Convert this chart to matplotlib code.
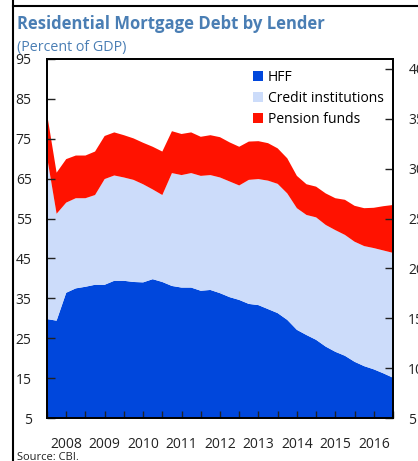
import numpy as np
import matplotlib
matplotlib.use('Agg')
import matplotlib.pyplot as plt
from matplotlib.lines import Line2D
from matplotlib.patches import Patch

plt.rcParams['font.family'] = ['Open Sans', 'DejaVu Sans']

# quarterly observations, percent of GDP
hff = [29.8, 29.4, 36.4, 37.5, 37.9, 38.4, 38.4, 39.4, 39.4, 39.1, 39.0, 39.8, 39.1,
       38.1, 37.7, 37.7, 36.9, 37.1, 36.3, 35.3, 34.6, 33.6, 33.3, 32.3, 31.3, 29.6,
       27.1, 25.8, 24.6, 22.9, 21.6, 20.6, 19.1, 18.0, 17.2, 16.2, 15.1]
credit_inst = [40.7, 26.8, 22.6, 22.6, 22.2, 22.5, 26.5, 26.4, 25.9, 25.6, 24.6, 22.5, 21.8,
               28.3, 28.2, 28.7, 28.8, 28.8, 29.0, 29.0, 28.7, 31.1, 31.6, 32.2, 32.4, 31.7,
               30.5, 30.1, 30.7, 30.5, 30.5, 30.3, 30.1, 30.1, 30.4, 30.8, 31.3]
pension = [10.8, 10.3, 10.9, 10.7, 10.7, 10.9, 10.8, 10.8, 10.6, 10.4, 10.4, 10.7, 10.9,
           10.5, 10.3, 10.2, 9.8, 10.0, 10.1, 9.8, 9.7, 9.6, 9.5, 9.4, 8.9, 8.8,
           8.1, 7.7, 7.7, 7.9, 8.0, 8.8, 9.0, 9.5, 10.1, 11.1, 12.0]
years = ['2008', '2009', '2010', '2011', '2012', '2013', '2014', '2015', '2016']
labels = ['HFF', 'Credit institutions', 'Pension funds']
colors = ['#0047DC', '#CCDCFA', '#FF1200']

x = np.arange(len(hff))

fig = plt.figure(figsize=(4.18, 4.61), dpi=100)
ax = fig.add_axes([47/418, 43/461, 346/418, 359/461])

ax.stackplot(x, hff, credit_inst, pension, colors=colors, linewidth=0)

ax.set_xlim(0, len(hff) - 1)
ax.set_ylim(5, 95)
ax.set_yticks(np.arange(5, 96, 10))
ax.set_xticks(np.arange(0, len(hff), 2))
ax.set_xticklabels(['' if i % 2 == 0 else years[i // 2] for i in range(len(np.arange(0, len(hff), 2)))])
ax.tick_params(axis='x', direction='in', length=5, width=1, pad=14, labelsize=10, colors='#222222')
ax.tick_params(axis='y', direction='in', length=6, width=1, pad=11, labelsize=10, colors='#222222')
for s in ax.spines.values():
    s.set_linewidth(1.3)

ax2 = ax.twinx()
ax2.set_ylim(5, 41)
ax2.set_yticks(np.arange(5, 41, 5))
ax2.tick_params(axis='y', direction='in', length=6, width=1, pad=11, labelsize=10, colors='#222222')
for s in ax2.spines.values():
    s.set_linewidth(1.3)

handles = [Patch(facecolor=c, edgecolor='none') for c in colors]
fig.legend(handles, labels, loc='upper left', bbox_to_anchor=(246/418, 1 - 63/461),
           frameon=False, fontsize=10, handlelength=0.75, handleheight=0.75,
           handletextpad=0.3, labelspacing=0.42, borderpad=0)

fig.text(17/418, 1 - 24/461, 'Residential Mortgage Debt by Lender', fontsize=12,
         fontweight='bold', color='#4A7EB4', va='center', ha='left')
fig.text(17/418, 1 - 47/461, '(Percent of GDP)', fontsize=10.3, color='#4A7EB4',
         va='center', ha='left')
fig.text(17/418, 1 - 457/461, 'Source: CBI.', fontsize=8, color='#222222',
         va='center', ha='left')

fig.add_artist(Line2D([13/418, 13/418], [0, 1], color='black', linewidth=1.5))
fig.add_artist(Line2D([13/418, 1], [1 - 6/461, 1 - 6/461], color='black', linewidth=1.5))

fig.savefig('out.png', dpi=100)
